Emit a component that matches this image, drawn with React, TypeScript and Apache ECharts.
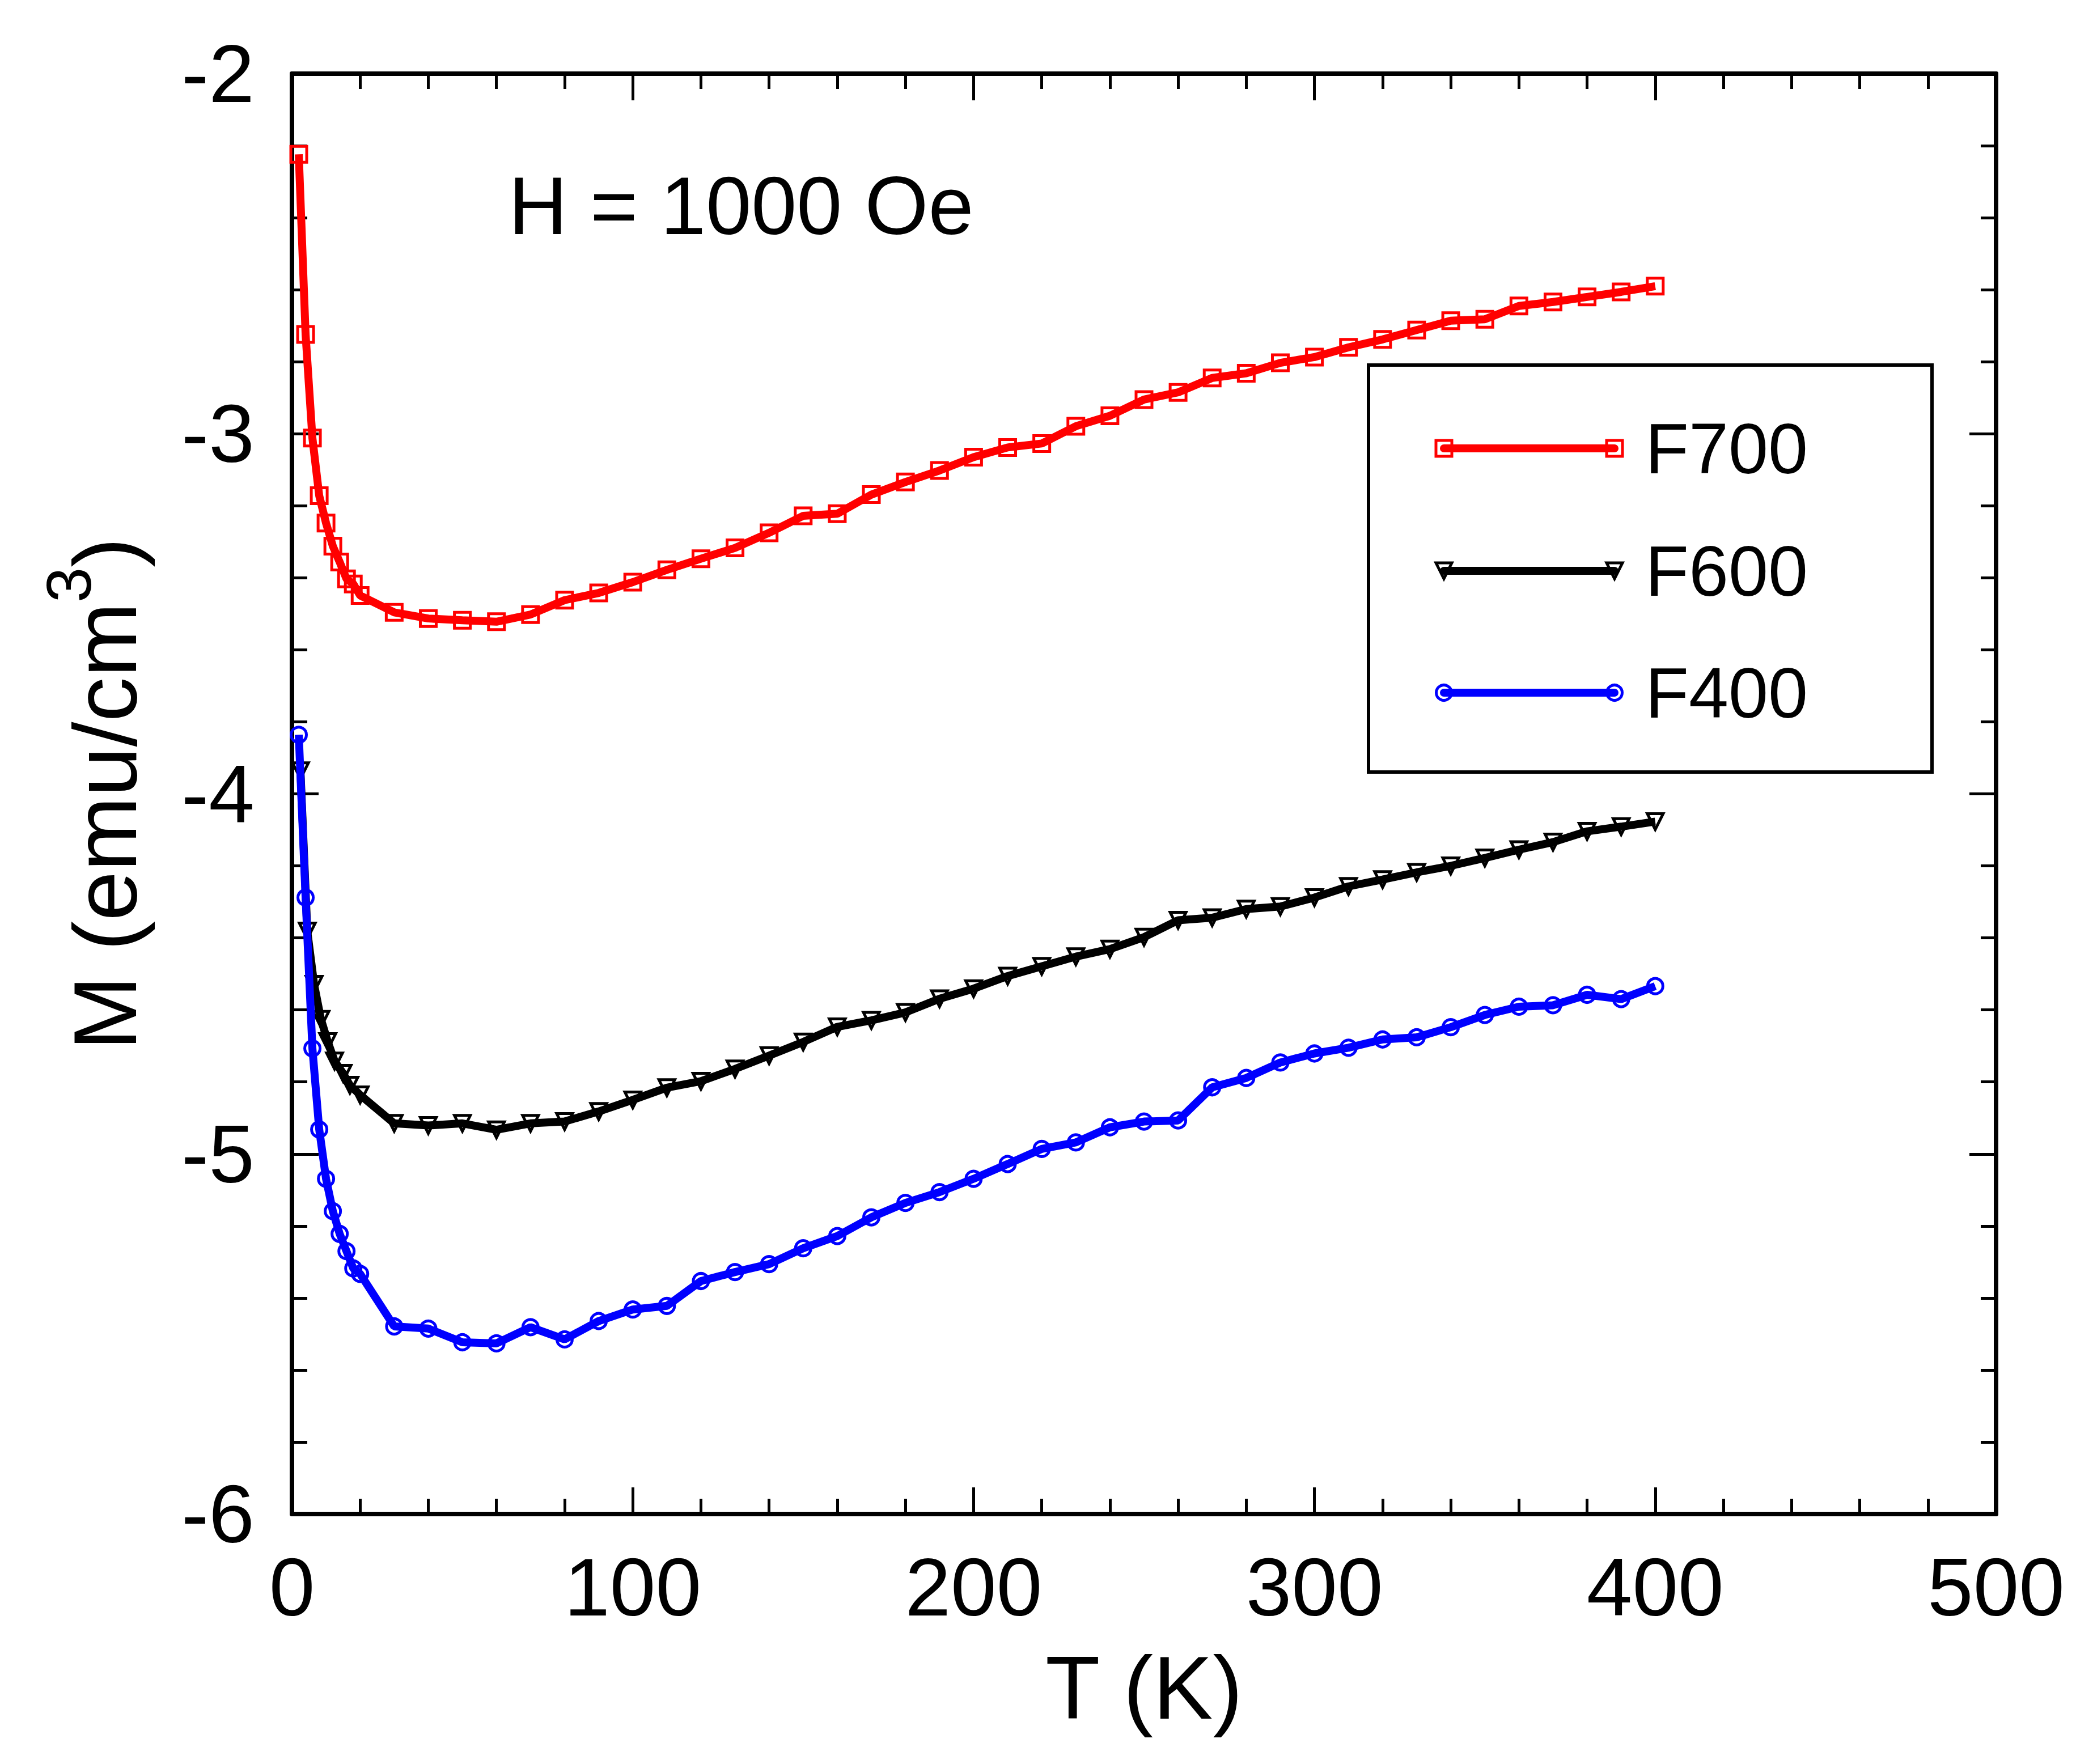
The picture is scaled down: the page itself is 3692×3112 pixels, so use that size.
import React, { useEffect, useRef } from "react";
import * as echarts from "echarts";

const FONT = "'Liberation Sans', Arial, sans-serif";

// Temperatures (K)
const T_F700 = [2, 4, 6, 8, 10, 12, 14, 16, 18, 20, 30, 40, 50, 60, 70, 80, 90, 100, 110, 120, 130, 140, 150, 160, 170, 180, 190, 200, 210, 220, 230, 240, 250, 260, 270, 280, 290, 300, 310, 320, 330, 340, 350, 360, 370, 380, 390, 400];
const T_F600 = [2.5, 4.5, 6.5, 8.5, 10.5, 12.5, 15, 17, 20, 30, 40, 50, 60, 70, 80, 90, 100, 110, 120, 130, 140, 150, 160, 170, 180, 190, 200, 210, 220, 230, 240, 250, 260, 270, 280, 290, 300, 310, 320, 330, 340, 350, 360, 370, 380, 390, 400];
const T_F400 = [2, 4, 6, 8, 10, 12, 14, 16, 18, 20, 30, 40, 50, 60, 70, 80, 90, 100, 110, 120, 130, 140, 150, 160, 170, 180, 190, 200, 210, 220, 230, 240, 250, 260, 270, 280, 290, 300, 310, 320, 330, 340, 350, 360, 370, 380, 390, 400];

// Magnetization (emu/cm^3)
const M_F700 = [-2.224, -2.724, -3.012, -3.172, -3.248, -3.312, -3.356, -3.403, -3.417, -3.449, -3.496, -3.513, -3.518, -3.522, -3.502, -3.462, -3.442, -3.412, -3.378, -3.347, -3.317, -3.275, -3.228, -3.222, -3.169, -3.134, -3.102, -3.065, -3.038, -3.027, -2.979, -2.950, -2.905, -2.885, -2.845, -2.832, -2.803, -2.787, -2.760, -2.738, -2.712, -2.686, -2.682, -2.645, -2.634, -2.620, -2.606, -2.590];
const M_F600 = [-3.936, -4.381, -4.529, -4.626, -4.688, -4.742, -4.776, -4.809, -4.836, -4.915, -4.921, -4.915, -4.933, -4.915, -4.910, -4.882, -4.850, -4.816, -4.798, -4.764, -4.727, -4.689, -4.647, -4.629, -4.607, -4.569, -4.541, -4.506, -4.479, -4.452, -4.431, -4.398, -4.351, -4.344, -4.320, -4.313, -4.288, -4.257, -4.238, -4.218, -4.200, -4.178, -4.155, -4.134, -4.104, -4.091, -4.077];
const M_F400 = [-3.836, -4.288, -4.707, -4.932, -5.069, -5.159, -5.222, -5.270, -5.318, -5.333, -5.479, -5.485, -5.523, -5.526, -5.481, -5.515, -5.464, -5.432, -5.422, -5.353, -5.328, -5.306, -5.262, -5.228, -5.176, -5.136, -5.106, -5.069, -5.028, -4.986, -4.968, -4.926, -4.910, -4.907, -4.815, -4.789, -4.746, -4.721, -4.705, -4.682, -4.676, -4.648, -4.614, -4.591, -4.587, -4.558, -4.570, -4.534];

const SERIES_NAMES = ["F700", "F600", "F400"];
const SERIES_COLORS = ["#ff0000", "#000000", "#0000ff"];
const SERIES_SYMBOLS = ["rect", "triangle", "circle"];

const X_MIN = 0, X_MAX = 500, X_INTERVAL = 100;
const Y_MIN = -6, Y_MAX = -2, Y_INTERVAL = 1;

const ANNOTATION = "H = 1000 Oe";
const X_NAME = "T (K)";
const Y_NAME = "{m|M (emu/cm}{sup|3}{m|)}";

export default function App() {
  const ref = useRef<HTMLDivElement>(null);

  useEffect(() => {
    document.body.style.margin = "0";
    const chart = echarts.init(ref.current!, null, { renderer: "svg" });

    const axisCommon = (show: boolean) => ({
      axisLine: { show: true, onZero: false, lineStyle: { color: "#000", width: 8 } },
      axisTick: { show: true, inside: true, length: 47, lineStyle: { color: "#000", width: 5 } },
      minorTick: { show: true, splitNumber: 5, length: 27, lineStyle: { color: "#000", width: 5 } },
      splitLine: { show: false },
      minorSplitLine: { show: false },
      axisLabel: { show, color: "#000", fontSize: 145, fontFamily: FONT },
    });

    const datasets = [
      { T: T_F700, M: M_F700 },
      { T: T_F600, M: M_F600 },
      { T: T_F400, M: M_F400 },
    ];

    const series = datasets.map((d, i) => ({
      type: "line",
      name: SERIES_NAMES[i],
      data: d.T.map((t, k) => [t, d.M[k]]),
      symbol: SERIES_SYMBOLS[i],
      symbolSize: i === 0 ? 28 : i === 1 ? 28 : 27,
      symbolRotate: i === 1 ? 180 : 0,
      showAllSymbol: true,
      lineStyle: { color: SERIES_COLORS[i], width: 14 },
      itemStyle: { color: "rgba(0,0,0,0)", borderColor: SERIES_COLORS[i], borderWidth: 5 },
      emphasis: { disabled: true },
      z: 2 + i,
    }));

    // legend drawn with graphic elements
    const LX = 2414, LY = 644, LW = 994, LH = 718;
    const rowY = [791, 1007, 1222];
    const x1 = 2547, x2 = 2848, textX = 2902;
    const legendEls: any[] = [
      {
        type: "rect",
        shape: { x: LX, y: LY, width: LW, height: LH },
        style: { fill: "#fff", stroke: "#000", lineWidth: 6 },
        z: 10,
      },
    ];
    const marker = (kind: string, cx: number, cy: number, color: string) => {
      const h = 14;
      if (kind === "rect")
        return { type: "rect", shape: { x: cx - h, y: cy - h, width: 2 * h, height: 2 * h }, style: { fill: "none", stroke: color, lineWidth: 5 }, z: 12 };
      if (kind === "triangle")
        return { type: "polygon", shape: { points: [[cx - h, cy - h], [cx + h, cy - h], [cx, cy + h]] }, style: { fill: "none", stroke: color, lineWidth: 5 }, z: 12 };
      return { type: "circle", shape: { cx, cy, r: 13.5 }, style: { fill: "none", stroke: color, lineWidth: 5 }, z: 12 };
    };
    SERIES_NAMES.forEach((name, i) => {
      const y = rowY[i];
      legendEls.push({ type: "line", shape: { x1, y1: y, x2, y2: y }, style: { stroke: SERIES_COLORS[i], lineWidth: 14, lineCap: "round" }, z: 11 });
      legendEls.push(marker(SERIES_SYMBOLS[i], x1, y, SERIES_COLORS[i]));
      legendEls.push(marker(SERIES_SYMBOLS[i], x2, y, SERIES_COLORS[i]));
      legendEls.push({ type: "text", x: textX, y, style: { text: name, fontSize: 126, fontFamily: FONT, fill: "#000", verticalAlign: "middle", align: "left" }, z: 12 });
    });

    const option: any = {
      animation: false,
      backgroundColor: "#fff",
      grid: { left: 515, right: 171, top: 130, bottom: 441, containLabel: false },
      xAxis: [
        {
          type: "value", min: X_MIN, max: X_MAX, interval: X_INTERVAL, position: "bottom",
          ...axisCommon(true),
          axisLabel: { show: true, color: "#000", fontSize: 145, fontFamily: FONT, margin: 56 },
          name: X_NAME, nameLocation: "middle", nameGap: 227,
          nameTextStyle: { fontSize: 158, fontFamily: FONT, color: "#000" },
        },
        {
          type: "value", min: X_MIN, max: X_MAX, interval: X_INTERVAL, position: "top",
          ...axisCommon(false),
        },
      ],
      yAxis: [
        {
          type: "value", min: Y_MIN, max: Y_MAX, interval: Y_INTERVAL, position: "left",
          ...axisCommon(true),
          axisLabel: { show: true, color: "#000", fontSize: 145, fontFamily: FONT, margin: 66 },
          name: Y_NAME, nameLocation: "middle", nameGap: 210,
          nameTextStyle: {
            fontSize: 158, fontFamily: FONT, color: "#000",
            rich: {
              m: { fontSize: 158, fontFamily: FONT, color: "#000", lineHeight: 240 },
              sup: { fontSize: 112, fontFamily: FONT, color: "#000", verticalAlign: "top", lineHeight: 40 },
            },
          },
        },
        {
          type: "value", min: Y_MIN, max: Y_MAX, interval: Y_INTERVAL, position: "right",
          ...axisCommon(false),
        },
      ],
      series,
      graphic: [
        {
          type: "text", x: 897, y: 363,
          style: { text: ANNOTATION, fontSize: 144, fontFamily: FONT, fill: "#000", verticalAlign: "middle", align: "left" },
          z: 10,
        },
        ...legendEls,
      ],
    };

    chart.setOption(option);
    return () => chart.dispose();
  }, []);

  return <div ref={ref} style={{ width: 3692, height: 3112, background: "#fff" }} />;
}
